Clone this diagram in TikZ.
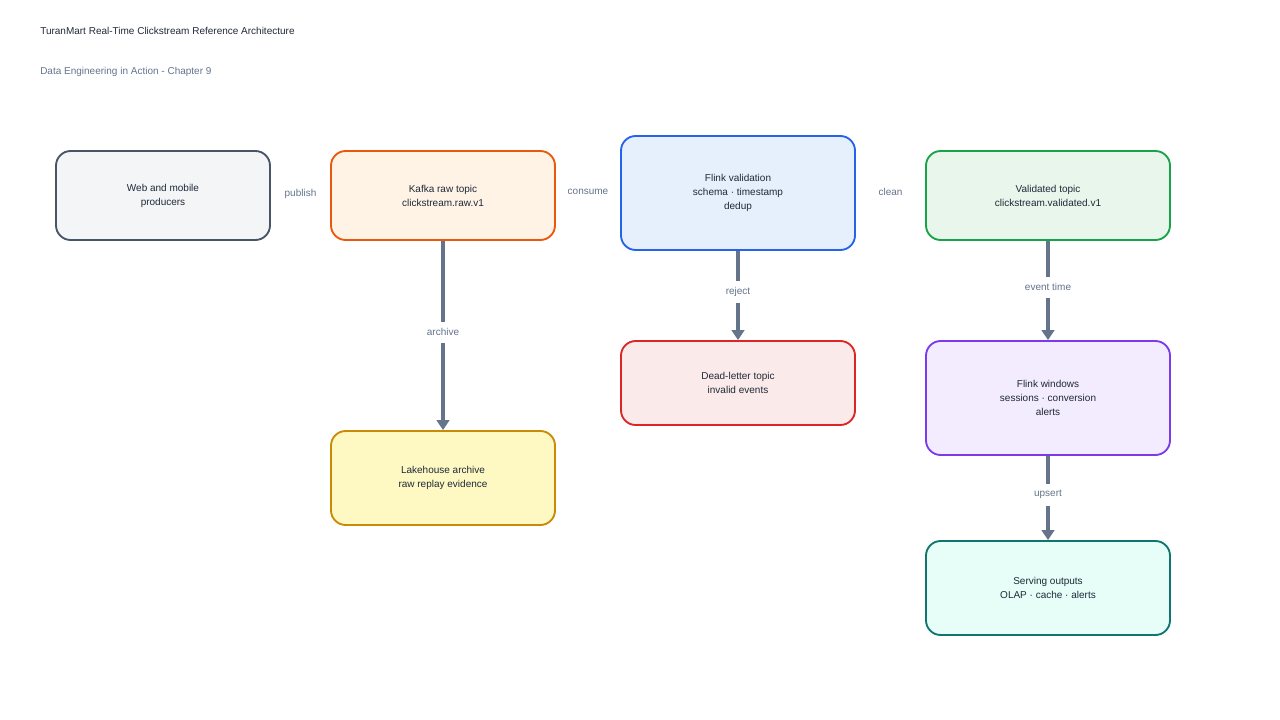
\documentclass[tikz,border=0pt]{standalone}
\usepackage{fontspec}
\setmainfont{Liberation Sans}
\usetikzlibrary{arrows.meta}

\definecolor{csink}{HTML}{1F2937}
\definecolor{csmuted}{HTML}{64748B}
\definecolor{csedgecol}{HTML}{64748B}

\tikzset{
  csbox/.style={draw, rounded corners=11pt, line width=1.4pt, align=center,
    font=\fontsize{7.5pt}{10.5pt}\selectfont, text=csink, inner sep=2pt},
  csedge/.style={line width=2.4pt, draw=csedgecol,
    -{Triangle[width=9.5pt,length=7.5pt]}},
  cslabel/.style={fill=white, text=csmuted, inner sep=5pt,
    font=\fontsize{7.5pt}{9pt}\selectfont}
}

\begin{document}
\begin{tikzpicture}[x=0.75pt, y=-0.75pt]
\useasboundingbox (0,0) rectangle (1280,720);

\node[anchor=west, inner sep=0pt, text=csink, font=\fontsize{7.5pt}{9pt}\selectfont] (title) at (40,31) {TuranMart Real-Time Clickstream Reference Architecture};
\node[anchor=west, inner sep=0pt, text=csmuted, font=\fontsize{7.5pt}{9pt}\selectfont] (subtitle) at (40,72) {Data Engineering in Action - Chapter 9};

\node[csbox, draw={rgb,255:red,71;green,85;blue,105}, fill={rgb,255:red,243;green,245;blue,247}, minimum width=160.5pt, minimum height=66.75pt] (web) at (163,195.5) {Web and mobile\\producers};
\node[csbox, draw={rgb,255:red,234;green,88;blue,12}, fill={rgb,255:red,255;green,243;blue,230}, minimum width=168pt, minimum height=66.75pt] (kafka) at (443,195.5) {Kafka raw topic\\clickstream.raw.v1};
\node[csbox, draw={rgb,255:red,37;green,99;blue,235}, fill={rgb,255:red,230;green,240;blue,253}, minimum width=175.5pt, minimum height=85.5pt] (flinkval) at (738,193) {Flink validation\\schema · timestamp\\dedup};
\node[csbox, draw={rgb,255:red,22;green,163;blue,74}, fill={rgb,255:red,232;green,246;blue,236}, minimum width=183pt, minimum height=66.75pt] (validated) at (1048,195.5) {Validated topic\\clickstream.validated.v1};

\node[csbox, draw={rgb,255:red,202;green,138;blue,4}, fill={rgb,255:red,254;green,249;blue,195}, minimum width=168pt, minimum height=70.5pt] (lake) at (443,478) {Lakehouse archive\\raw replay evidence};
\node[csbox, draw={rgb,255:red,220;green,38;blue,38}, fill={rgb,255:red,251;green,234;blue,234}, minimum width=175.5pt, minimum height=63pt] (dead) at (738,383) {Dead-letter topic\\invalid events};
\node[csbox, draw={rgb,255:red,124;green,58;blue,237}, fill={rgb,255:red,243;green,236;blue,254}, minimum width=183pt, minimum height=85.5pt] (windows) at (1048,398) {Flink windows\\sessions · conversion\\alerts};
\node[csbox, draw={rgb,255:red,15;green,118;blue,110}, fill={rgb,255:red,230;green,253;blue,248}, minimum width=183pt, minimum height=70.5pt] (serving) at (1048,588) {Serving outputs\\OLAP · cache · alerts};

\path (web) -- node[cslabel, yshift=1.5pt] (lpublish) {publish} (kafka);
\path (kafka) -- node[cslabel, yshift=2pt] (lconsume) {consume} (flinkval);
\path (flinkval) -- node[cslabel, yshift=1.5pt] (lclean) {clean} (validated);

\draw[csedge] (kafka) -- node[cslabel, yshift=2.5pt] (larchive) {archive} (lake);
\draw[csedge] (flinkval) -- node[cslabel, yshift=2.5pt] (lreject) {reject} (dead);
\draw[csedge] (validated) -- node[cslabel, yshift=2.5pt] (levent) {event time} (windows);
\draw[csedge] (windows) -- node[cslabel, yshift=2.5pt] (lupsert) {upsert} (serving);
\end{tikzpicture}
\end{document}
